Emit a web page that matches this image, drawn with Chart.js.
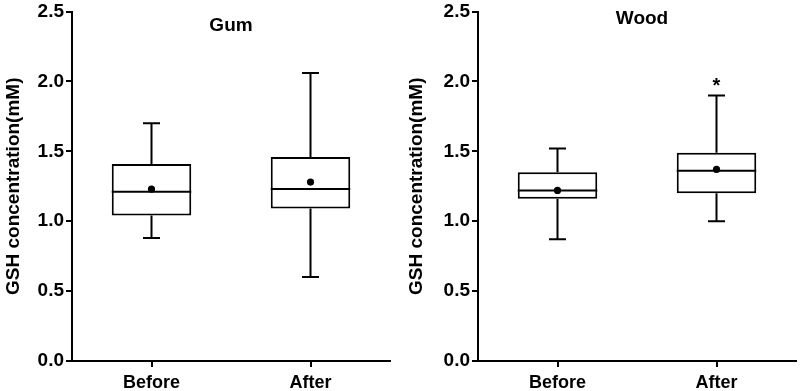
<!DOCTYPE html>
<html>
<head>
<meta charset="utf-8">
<script src="https://cdn.jsdelivr.net/npm/chart.js@4/dist/chart.umd.min.js"></script>
<style>
html,body{margin:0;padding:0;background:#fff;}
#wrap{position:relative;width:800px;height:391px;overflow:hidden;}
.pane{position:absolute;top:0;width:400px;height:391px;}
</style>
</head>
<body>
<div id="wrap">
  <div class="pane" style="left:0"><canvas id="gum" width="400" height="391"></canvas></div>
  <div class="pane" style="left:400px"><canvas id="wood" width="400" height="391"></canvas></div>
</div>
<script>
// ---- data ----
const categories = ['Before', 'After'];

const gumMin    = [0.88, 0.60];
const gumQ1     = [1.04, 1.09];
const gumMedian = [1.21, 1.23];
const gumQ3     = [1.41, 1.46];
const gumMax    = [1.70, 2.06];
const gumMean   = [1.23, 1.28];

const woodMin    = [0.87, 1.00];
const woodQ1     = [1.16, 1.20];
const woodMedian = [1.22, 1.36];
const woodQ3     = [1.35, 1.49];
const woodMax    = [1.52, 1.90];
const woodMean   = [1.22, 1.37];

const woodSignificance = ['', '*'];

const yTitle = 'GSH concentration(mM)';

Chart.defaults.font.family = '"Liberation Sans", Arial, sans-serif';
Chart.defaults.color = '#000';

const boxPlugin = {
  id: 'boxExtras',
  beforeDatasetsDraw(chart, args, opts) {
    const {ctx} = chart;
    const x = chart.scales.x, y = chart.scales.y;
    ctx.save();
    ctx.strokeStyle = '#000';
    ctx.lineWidth = 2;
    const capHalf = 8.5;
    opts.min.forEach((v, i) => {
      const cx = x.getPixelForValue(i);
      const pMin = y.getPixelForValue(opts.min[i]);
      const pMax = y.getPixelForValue(opts.max[i]);
      const pQ1 = y.getPixelForValue(opts.q1[i]);
      const pQ3 = y.getPixelForValue(opts.q3[i]);
      ctx.beginPath();
      ctx.moveTo(cx, pQ3); ctx.lineTo(cx, pMax);
      ctx.moveTo(cx - capHalf, pMax); ctx.lineTo(cx + capHalf, pMax);
      ctx.moveTo(cx, pQ1); ctx.lineTo(cx, pMin);
      ctx.moveTo(cx - capHalf, pMin); ctx.lineTo(cx + capHalf, pMin);
      ctx.stroke();
    });
    ctx.restore();
  },
  afterDatasetDraw(chart, args, opts) {
    if (args.index !== 0) return;
    const {ctx} = chart;
    const y = chart.scales.y;
    const meta = chart.getDatasetMeta(0);
    ctx.save();
    ctx.strokeStyle = '#000';
    ctx.lineWidth = 2;
    meta.data.forEach((bar, i) => {
      const half = bar.width / 2;
      const pm = y.getPixelForValue(opts.median[i]);
      ctx.beginPath();
      ctx.moveTo(bar.x - half, pm); ctx.lineTo(bar.x + half, pm);
      ctx.stroke();
    });
    ctx.restore();
  },
  afterDraw(chart, args, opts) {
    const {ctx, chartArea} = chart;
    const x = chart.scales.x, y = chart.scales.y;
    ctx.save();
    ctx.fillStyle = '#000';
    ctx.textAlign = 'center';
    ctx.textBaseline = 'alphabetic';
    ctx.font = 'bold 19px "Liberation Sans", Arial, sans-serif';
    ctx.fillText(opts.title, (chartArea.left + chartArea.right) / 2 + opts.titleDx, opts.titleY);
    if (opts.marks) {
      ctx.font = 'bold 20px "Liberation Sans", Arial, sans-serif';
      opts.marks.forEach((m, i) => {
        if (!m) return;
        const cx = x.getPixelForValue(i);
        const py = y.getPixelForValue(opts.max[i]);
        ctx.fillText(m, cx, py - 3);
      });
    }
    ctx.restore();
  }
};

function makeChart(id, title, mn, q1, med, q3, mx, mean, marks, yWidth, padRight, titleY, titleDx, titlePad) {
  return new Chart(document.getElementById(id), {
    type: 'bar',
    data: {
      labels: categories,
      datasets: [
        {
          type: 'bar',
          data: categories.map((c, i) => [q1[i], q3[i]]),
          backgroundColor: '#fff',
          borderColor: '#000',
          borderWidth: 2,
          borderSkipped: false,
          barPercentage: 0.5,
          categoryPercentage: 1.0,
          order: 2
        },
        {
          type: 'line',
          data: mean,
          showLine: false,
          pointRadius: 3.6,
          pointBackgroundColor: '#000',
          pointBorderColor: '#000',
          pointBorderWidth: 0,
          order: 1
        }
      ]
    },
    options: {
      responsive: false,
      animation: false,
      devicePixelRatio: 1,
      layout: { padding: { top: 10, right: padRight, left: 0, bottom: 0 } },
      plugins: {
        legend: { display: false },
        tooltip: { enabled: false },
        boxExtras: { min: mn, q1: q1, median: med, q3: q3, max: mx, title: title, titleY: titleY, titleDx: titleDx, marks: marks }
      },
      scales: {
        x: {
          offset: true,
          grid: { display: true, drawOnChartArea: false, offset: false, drawTicks: true, tickLength: 6, color: '#000', lineWidth: 2 },
          border: { display: true, color: '#000', width: 2 },
          ticks: { font: { size: 18, weight: 'bold' }, color: '#000', padding: 5 },
          afterFit(s) { s.height = 30; }
        },
        y: {
          min: 0, max: 2.5,
          grid: { display: true, drawOnChartArea: false, drawTicks: true, tickLength: 6, color: '#000', lineWidth: 2 },
          border: { display: true, color: '#000', width: 2 },
          ticks: { stepSize: 0.5, font: { size: 19, weight: 'bold', lineHeight: 1 }, color: '#000', padding: 2,
                   callback: v => Number(v).toFixed(1) },
          title: { display: true, text: yTitle, font: { size: 19, weight: 'bold' }, color: '#000', padding: { top: titlePad, bottom: 0 } },
          afterFit(s) { s.width = yWidth; }
        }
      }
    },
    plugins: [boxPlugin]
  });
}

makeChart('gum', 'Gum', gumMin, gumQ1, gumMedian, gumQ3, gumMax, gumMean, null, 72, 10, 31, 0, 2);
makeChart('wood', 'Wood', woodMin, woodQ1, woodMedian, woodQ3, woodMax, woodMean, woodSignificance, 78, 4, 24, 5, 5);
</script>
</body>
</html>
